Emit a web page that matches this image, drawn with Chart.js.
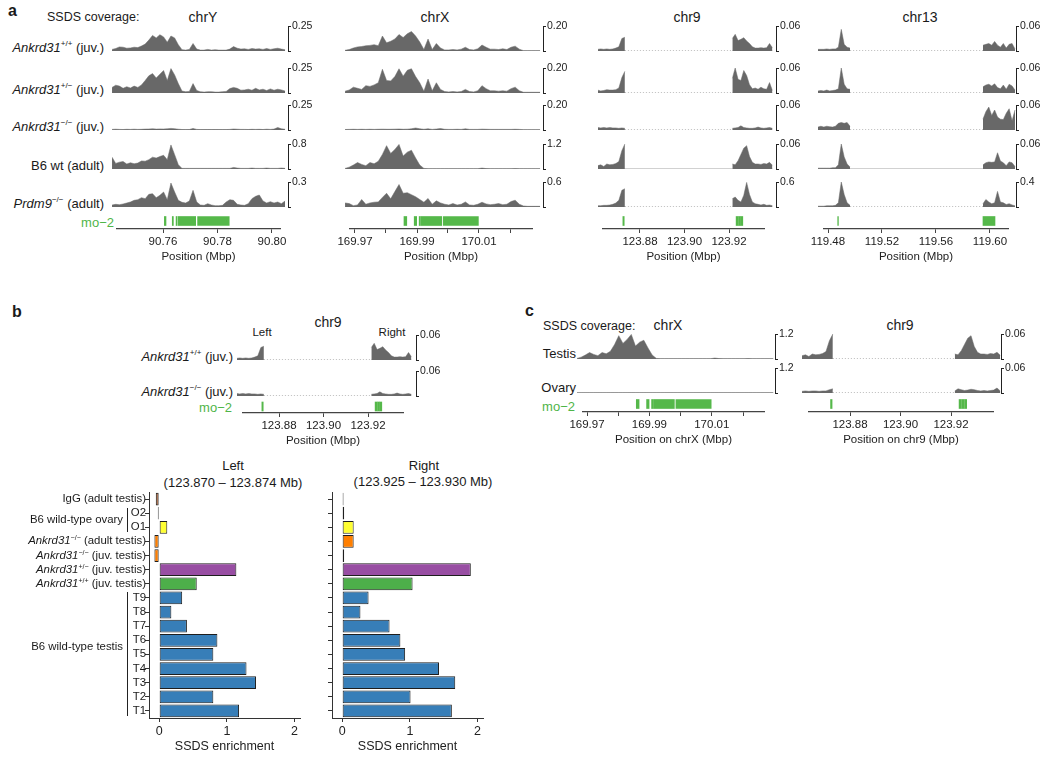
<!DOCTYPE html>
<html>
<head>
<meta charset="utf-8">
<title>SSDS coverage at mo-2 hotspots</title>
<script src="https://cdn.jsdelivr.net/npm/chart.js@4.4.1/dist/chart.umd.min.js"></script>
<style>
  html, body { margin: 0; padding: 0; background: #fff; }
  #fig { position: relative; width: 1050px; height: 758px; overflow: hidden;
         font-family: 'Liberation Sans', Arial, Helvetica, sans-serif; color: #1a1a1a; }
  #fig canvas { position: absolute; }
  .t { position: absolute; white-space: nowrap; line-height: 1; }
  .t sup { font-size: 62%; line-height: 0; vertical-align: super; }
  .vline { position: absolute; width: 0; border-left: 1px solid #222; }
</style>
</head>
<body>
<div id="fig"></div>
<script>
const FONT = "'Liberation Sans', Arial, Helvetica, sans-serif";
Chart.defaults.font.family = FONT;
Chart.defaults.color = "#222";

// ---------- data: SSDS coverage ----------
const rowLabels = ["Ankrd31+/+ (juv.)", "Ankrd31+/- (juv.)", "Ankrd31-/- (juv.)", "B6 wt (adult)", "Prdm9-/- (adult)"];

// chrY
const chrYRange = [90.7413, 90.8048];
const chrYWt = [0.016,0.025,0.041,0.038,0.028,0.031,0.038,0.034,0.05,0.069,0.109,0.156,0.131,0.163,0.141,0.088,0.15,0.131,0.063,0.013,0.009,0.016,0.075,0.019,0.009,0.009,0.016,0.009,0.013,0.009,0.009,0.009,0.019,0.044,0.028,0.019,0.022,0.016,0.025,0.019,0.022,0.016,0.025,0.016,0.022,0.028,0.019,0.013];
const chrYHet = [0.056,0.078,0.069,0.047,0.063,0.05,0.069,0.056,0.081,0.125,0.172,0.194,0.15,0.188,0.225,0.125,0.244,0.181,0.094,0.019,0.013,0.016,0.094,0.025,0.013,0.009,0.013,0.013,0.009,0.009,0.013,0.016,0.044,0.056,0.047,0.028,0.031,0.038,0.028,0.047,0.031,0.038,0.025,0.041,0.028,0.038,0.031,0.019];
const chrYKo = [0.006,0.008,0.006,0.005,0.007,0.006,0.008,0.006,0.007,0.009,0.01,0.012,0.009,0.011,0.01,0.012,0.016,0.013,0.008,0.005,0.004,0.005,0.016,0.006,0.004,0.004,0.005,0.004,0.005,0.004,0.004,0.004,0.006,0.01,0.008,0.006,0.006,0.005,0.007,0.006,0.007,0.005,0.008,0.006,0.009,0.025,0.012,0.007];
const chrYB6 = [0.38,0.18,0.22,0.24,0.16,0.2,0.17,0.19,0.26,0.25,0.3,0.38,0.35,0.4,0.44,0.3,0.77,0.46,0.14,0.02,0.02,0.02,0.02,0.02,0.02,0.02,0.02,0.02,0.02,0.02,0.02,0.02,0.02,0.05,0.03,0.02,0.02,0.02,0.03,0.02,0.02,0.02,0.03,0.02,0.02,0.02,0.03,0.02];
const chrYPrdm9 = [0.024,0.032,0.028,0.036,0.048,0.06,0.08,0.088,0.112,0.1,0.152,0.16,0.112,0.14,0.18,0.088,0.288,0.18,0.08,0.056,0.048,0.072,0.2,0.06,0.024,0.02,0.04,0.024,0.016,0.016,0.02,0.06,0.088,0.08,0.032,0.024,0.02,0.04,0.1,0.128,0.144,0.072,0.048,0.064,0.048,0.06,0.04,0.072];
const chrYMax = [0.25, 0.25, 0.25, 0.8, 0.3];
const chrYMaxText = ["0.25", "0.25", "0.25", "0.8", "0.3"];
const chrYTicks = [90.76, 90.78, 90.80];
const chrYTickText = ["90.76", "90.78", "90.80"];
const chrYHotspots = [[90.7605, 90.7611], [90.7634, 90.7638], [90.7648, 90.7652], [90.7656, 90.7720], [90.7727, 90.7843]];

// chrX
const chrXRange = [169.9668, 170.0297];
const chrXWt = [0.006,0.012,0.024,0.033,0.036,0.042,0.045,0.051,0.042,0.12,0.066,0.078,0.096,0.132,0.108,0.138,0.156,0.12,0.072,0.012,0.096,0.012,0.06,0.024,0.009,0.009,0.012,0.009,0.015,0.03,0.012,0.009,0.018,0.048,0.03,0.015,0.015,0.012,0.018,0.012,0.03,0.039,0.015,0.003,0.003,0.003,0.003,0.003];
const chrXHet = [0.015,0.024,0.047,0.038,0.029,0.059,0.053,0.065,0.082,0.19,0.1,0.097,0.132,0.194,0.135,0.182,0.194,0.132,0.082,0.015,0.112,0.018,0.082,0.029,0.012,0.009,0.012,0.009,0.012,0.029,0.012,0.009,0.018,0.059,0.035,0.018,0.018,0.015,0.018,0.015,0.035,0.047,0.018,0.006,0.006,0.006,0.006,0.006];
const chrXKo = [0.004,0.005,0.006,0.005,0.006,0.005,0.006,0.005,0.006,0.007,0.006,0.006,0.007,0.008,0.006,0.007,0.01,0.016,0.01,0.006,0.01,0.005,0.008,0.012,0.006,0.005,0.005,0.006,0.005,0.01,0.005,0.005,0.005,0.007,0.006,0.005,0.005,0.005,0.005,0.005,0.005,0.006,0.005,0.003,0.003,0.003,0.003,0.003];
const chrXB6 = [0.03,0.09,0.19,0.31,0.22,0.16,0.31,0.25,0.37,0.7,1.12,0.75,0.94,1.18,0.62,0.81,0.9,0.53,0.19,0.03,0.015,0.015,0.015,0.015,0.015,0.015,0.015,0.015,0.015,0.015,0.015,0.015,0.015,0.045,0.02,0.015,0.015,0.015,0.015,0.015,0.015,0.02,0.015,0.015,0.015,0.015,0.015,0.015];
const chrXPrdm9 = [0.098,0.082,0.033,0.049,0.18,0.066,0.098,0.115,0.123,0.23,0.33,0.197,0.37,0.54,0.33,0.344,0.295,0.246,0.18,0.115,0.205,0.066,0.148,0.098,0.066,0.049,0.082,0.049,0.066,0.123,0.049,0.041,0.066,0.115,0.074,0.057,0.066,0.082,0.057,0.066,0.131,0.164,0.066,0.025,0.016,0.016,0.016,0.016];
const chrXOvary = [0.01,0.01,0.012,0.01,0.01,0.012,0.01,0.01,0.012,0.014,0.012,0.01,0.012,0.014,0.012,0.012,0.014,0.012,0.01,0.01,0.01,0.01,0.012,0.01,0.01,0.01,0.01,0.01,0.01,0.012,0.01,0.01,0.01,0.012,0.01,0.01,0.01,0.01,0.01,0.01,0.01,0.012,0.01,0.01,0.01,0.01,0.01,0.01];
const chrXMax = [0.2, 0.2, 0.2, 1.2, 0.6];
const chrXMaxText = ["0.20", "0.20", "0.20", "1.2", "0.6"];
const chrXTicks = [169.97, 169.98, 169.99, 170.00, 170.01, 170.02];
const chrXTickText = ["169.97", "", "169.99", "", "170.01", ""];
const chrXHotspots = [[169.9858, 169.9867], [169.9891, 169.9899], [169.9907, 169.9911], [169.9913, 169.9980], [169.9985, 170.0098]];

// chr9 (two covered windows)
const chr9Left = [123.861, 123.8732];
const chr9Right = [123.9215, 123.9395];
const chr9WtL = [0.004,0.005,0.004,0.005,0.004,0.005,0.007,0.01,0.03,0.033];
const chr9WtR = [0.03,0.04,0.025,0.028,0.032,0.024,0.018,0.01,0.007,0.007,0.008,0.007,0.008,0.018,0.008];
const chr9HetL = [0.007,0.005,0.006,0.008,0.007,0.007,0.008,0.012,0.037,0.052];
const chr9HetR = [0.035,0.06,0.033,0.03,0.054,0.042,0.02,0.01,0.012,0.009,0.014,0.01,0.009,0.025,0.006];
const chr9KoL = [0.006,0.005,0.006,0.005,0.006,0.005,0.005,0.004,0.005,0.004];
const chr9KoR = [0.004,0.005,0.006,0.01,0.006,0.005,0.004,0.004,0.005,0.007,0.005,0.004,0.005,0.006,0.004];
const chr9B6L = [0.008,0.01,0.006,0.012,0.01,0.011,0.013,0.018,0.044,0.06];
const chr9B6R = [0.012,0.01,0.02,0.035,0.05,0.056,0.03,0.016,0.012,0.012,0.011,0.013,0.012,0.016,0.009];
const chr9Prdm9L = [0.032,0.032,0.04,0.04,0.048,0.064,0.096,0.16,0.4,0.44];
const chr9Prdm9R = [0.2,0.24,0.16,0.12,0.28,0.59,0.3,0.12,0.08,0.064,0.048,0.064,0.04,0.048,0.032];
const chr9OvaryL = [0.004,0.005,0.004,0.005,0.005,0.004,0.005,0.005,0.008,0.01];
const chr9OvaryR = [0.005,0.01,0.008,0.006,0.007,0.009,0.008,0.006,0.005,0.006,0.005,0.006,0.007,0.012,0.005];
const chr9Max = [0.06, 0.06, 0.06, 0.06, 0.6];
const chr9MaxText = ["0.06", "0.06", "0.06", "0.06", "0.6"];
const chr9Ticks = [123.88, 123.90, 123.92];
const chr9TickText = ["123.88", "123.90", "123.92"];
const chr9Hotspots = [[123.8723, 123.8729], [123.9232, 123.9241], [123.9243, 123.9252], [123.9254, 123.9262]];

// chr13
const chr13Left = [119.4726, 119.4963];
const chr13Right = [119.5948, 119.6185];
const chr13WtL = [0.004,0.004,0.004,0.005,0.004,0.005,0.005,0.009,0.052,0.016,0.009,0.007];
const chr13WtR = [0.014,0.016,0.018,0.014,0.023,0.014,0.009,0.018,0.007,0.016,0.018,0.005];
const chr13HetL = [0.005,0.006,0.005,0.007,0.005,0.006,0.007,0.01,0.06,0.021,0.01,0.009];
const chr13HetR = [0.015,0.019,0.021,0.017,0.022,0.013,0.01,0.019,0.009,0.021,0.017,0.007];
const chr13KoL = [0.007,0.009,0.007,0.009,0.008,0.007,0.009,0.016,0.018,0.016,0.018,0.009];
const chr13KoR = [0.026,0.044,0.055,0.035,0.048,0.031,0.026,0.025,0.04,0.051,0.022,0.048];
const chr13B6L = [0.002,0.002,0.002,0.002,0.002,0.003,0.003,0.01,0.06,0.029,0.012,0.005];
const chr13B6R = [0.01,0.015,0.017,0.016,0.017,0.039,0.019,0.015,0.008,0.017,0.015,0.006];
const chr13Prdm9L = [0.013,0.013,0.013,0.02,0.02,0.02,0.027,0.067,0.4,0.2,0.067,0.027];
const chr13Prdm9R = [0.053,0.12,0.08,0.053,0.067,0.25,0.08,0.067,0.04,0.053,0.033,0.02];
const chr13Max = [0.06, 0.06, 0.06, 0.06, 0.4];
const chr13MaxText = ["0.06", "0.06", "0.06", "0.06", "0.4"];
const chr13Ticks = [119.48, 119.52, 119.56, 119.60];
const chr13TickText = ["119.48", "119.52", "119.56", "119.60"];
const chr13Hotspots = [[119.4872, 119.4877], [119.5948, 119.6037]];

// panel b / c track scales
const bMax = [0.06, 0.06];
const bMaxText = ["0.06", "0.06"];
const cRowLabels = ["Testis", "Ovary"];
const cXMax = [1.2, 1.2];
const cXMaxText = ["1.2", "1.2"];
const c9Max = [0.06, 0.06];
const c9MaxText = ["0.06", "0.06"];

// SSDS enrichment bars, top to bottom
const barSamples = ["IgG (adult testis)", "O2", "O1", "Ankrd31-/- (adult testis)", "Ankrd31-/- (juv. testis)",
  "Ankrd31+/- (juv. testis)", "Ankrd31+/+ (juv. testis)", "T9", "T8", "T7", "T6", "T5", "T4", "T3", "T2", "T1"];
const leftEnrichment = [-0.05, -0.02, 0.12, -0.07, -0.07, 1.14, 0.555, 0.34, 0.18, 0.41, 0.86, 0.80, 1.29, 1.43, 0.80, 1.18];
const rightEnrichment = [0.02, 0.03, 0.17, 0.17, 0.03, 1.90, 1.04, 0.39, 0.27, 0.70, 0.86, 0.93, 1.43, 1.67, 1.01, 1.62];
const enrichTicks = [0, 1, 2];
const leftWindow = [123.870, 123.874];
const rightWindow = [123.925, 123.930];

// ---------- styles ----------
const GRAY = "#686868", BASELINE = "#a3a3a3", DOTS = "#8a8a8a", GREEN = "#55b84a", GREEN_TEXT = "#4fb548";
const barColors = ["#a65628", "#ffff33", "#ffff33", "#ff7f00", "#ff7f00", "#984ea3", "#4daf4a",
  "#377eb8", "#377eb8", "#377eb8", "#377eb8", "#377eb8", "#377eb8", "#377eb8", "#377eb8", "#377eb8"];

const fig = document.getElementById("fig");

const baseOpts = () => ({
  animation: false, responsive: false, maintainAspectRatio: false, events: [],
  plugins: { legend: { display: false }, tooltip: { enabled: false }, title: { display: false } }
});

const canvasAt = (x, y, w, h) => {
  const c = document.createElement("canvas");
  c.width = w; c.height = h;
  c.style.left = x + "px"; c.style.top = y + "px";
  c.style.width = w + "px"; c.style.height = h + "px";
  fig.appendChild(c);
  return c;
};

const label = (html, x, y, opt = {}) => {
  const d = document.createElement("div");
  d.className = "t";
  d.innerHTML = html;
  d.style.left = x + "px";
  d.style.top = y + "px";
  d.style.fontSize = (opt.size || 13) + "px";
  const a = opt.align || "left";
  d.style.transform = a === "right" ? "translate(-100%,-50%)" : a === "center" ? "translate(-50%,-50%)" : "translate(0,-50%)";
  if (opt.bold) d.style.fontWeight = "bold";
  if (opt.color) d.style.color = opt.color;
  fig.appendChild(d);
};

const vline = (x, y0, y1) => {
  const d = document.createElement("div");
  d.className = "vline";
  d.style.left = x + "px"; d.style.top = y0 + "px"; d.style.height = (y1 - y0) + "px";
  fig.appendChild(d);
};

const fmt = s => s.replace(/(Ankrd31|Prdm9)([+-])\/([+-])/, (m, g, a, b) =>
  `<i>${g}</i><sup>${a.replace("-", "\u2212")}/${b.replace("-", "\u2212")}</sup>`);

// pixel <-> Mbp for one track column
const mbp = (col, px) => col.ref + (px - col.refPx) / col.ppm;

// bins spread evenly over a covered window
const bins = (range, vals) => {
  const step = (range[1] - range[0]) / (vals.length - 1);
  return vals.map((v, i) => ({ x: range[0] + i * step, y: v }));
};

// one coverage track with its scale bracket on the right
const coverage = (col, baseY, regions, top, topText, solidGap) => {
  const H = 25, PT = 7, PB = 2, YW = 28, GAP = 3;
  const cv = canvasAt(col.trackL, baseY - H - PT, col.trackR - col.trackL + GAP + YW, H + PT + PB);
  const ds = [];
  regions.forEach(([range, vals]) => ds.push({
    data: bins(range, vals), fill: "origin", backgroundColor: GRAY, borderColor: GRAY, borderWidth: 0.5, pointRadius: 0
  }));
  regions.forEach(([range]) => ds.push({
    data: [{ x: range[0], y: 0 }, { x: range[1], y: 0 }], borderColor: BASELINE, borderWidth: 1.2, pointRadius: 0
  }));
  if (regions.length > 1) ds.push({
    data: [{ x: regions[0][0][1], y: 0 }, { x: regions[1][0][0], y: 0 }],
    borderColor: solidGap ? BASELINE : DOTS, borderWidth: solidGap ? 1.2 : 1, borderDash: solidGap ? [] : [1.2, 1.8], pointRadius: 0
  });
  const opts = baseOpts();
  opts.layout = { padding: { top: PT, bottom: PB, left: 0, right: 0 } };
  opts.scales = {
    x: { type: "linear", display: false, min: mbp(col, col.trackL), max: mbp(col, col.trackR + GAP) },
    y: {
      position: "right", min: 0, max: top,
      afterBuildTicks: s => { s.ticks = [{ value: 0 }, { value: top }]; },
      afterFit: s => { s.width = YW; s.paddingTop = 0; s.paddingBottom = 0; },
      grid: { drawOnChartArea: false, tickLength: 3, color: "#222", lineWidth: 1 },
      border: { display: true, color: "#222", width: 1 },
      ticks: { autoSkip: false, padding: 1, color: "#222", font: { size: 10.5 }, callback: v => (v === top ? topText : "") }
    }
  };
  new Chart(cv, { type: "line", data: { datasets: ds }, options: opts });
};

// mo-2 hotspot row plus the position axis under it
const mo2Axis = (col, areaTop, axisY, ticks, tickText, title, spots) => {
  const PX = 26, XH = 35;
  const cv = canvasAt(col.axisL - PX, areaTop, col.axisR - col.axisL + 2 * PX, axisY - areaTop + XH);
  const opts = baseOpts();
  opts.indexAxis = "y";
  opts.layout = { padding: { left: PX, right: PX, top: 0, bottom: 0 } };
  opts.scales = {
    x: {
      type: "linear", min: mbp(col, col.axisL), max: mbp(col, col.axisR),
      afterBuildTicks: s => { s.ticks = ticks.map(v => ({ value: v })); },
      afterFit: s => { s.height = XH; s.paddingLeft = 0; s.paddingRight = 0; },
      grid: { drawOnChartArea: false, tickLength: 4, color: "#444", lineWidth: 1 },
      border: { display: true, color: "#444", width: 1.3 },
      ticks: { autoSkip: false, maxRotation: 0, padding: 2, color: "#222", font: { size: 11.5 }, callback: (v, i) => tickText[i] },
      title: { display: true, text: title, color: "#222", font: { size: 11.5 }, padding: { top: 0, bottom: 0 } }
    },
    y: { type: "category", display: false }
  };
  new Chart(cv, {
    type: "bar",
    data: {
      labels: ["mo-2"],
      datasets: spots.map(h => ({ data: [h], backgroundColor: GREEN, borderWidth: 0, barThickness: 9, grouped: false }))
    },
    options: opts
  });
};

// horizontal enrichment bar chart, returns chart and canvas top
const enrichment = (areaLeft, areaTop, values) => {
  const W = 151, H = 226, YW = 5, PT = 2, PR = 12, XH = 37;
  const top = areaTop - PT;
  const cv = canvasAt(areaLeft - YW, top, YW + W + PR, PT + H + XH);
  const opts = baseOpts();
  opts.indexAxis = "y";
  opts.layout = { padding: { top: PT, right: PR, left: 0, bottom: 0 } };
  opts.scales = {
    x: {
      type: "linear", min: -0.15, max: 2.08,
      afterBuildTicks: s => { s.ticks = enrichTicks.map(v => ({ value: v })); },
      afterFit: s => { s.height = XH; s.paddingLeft = 0; s.paddingRight = 0; },
      grid: { drawOnChartArea: false, tickLength: 4, color: "#333" },
      border: { display: true, color: "#333", width: 1 },
      ticks: { color: "#222", padding: 2, font: { size: 12.5 } },
      title: { display: true, text: "SSDS enrichment", color: "#222", font: { size: 12.5 }, padding: { top: 0, bottom: 1 } }
    },
    y: {
      type: "category",
      afterFit: s => { s.width = YW; s.paddingTop = 0; s.paddingBottom = 0; },
      grid: { drawOnChartArea: false, offset: false, tickLength: 4, color: "#333" },
      border: { display: true, color: "#333", width: 1 },
      ticks: { display: false }
    }
  };
  const chart = new Chart(cv, {
    type: "bar",
    data: {
      labels: barSamples,
      datasets: [{ data: values, backgroundColor: barColors, borderColor: "#1e1e1e", borderWidth: 1,
        borderSkipped: false, barPercentage: 1, categoryPercentage: 0.9 }]
    },
    options: opts
  });
  return { chart, top };
};

// ---------- panel a ----------
const colY = { trackL: 112, trackR: 285, ref: 90.76, refPx: 163, ppm: 2725, axisL: 117, axisR: 280 };
const colX = { trackL: 345, trackR: 540, ref: 169.97, refPx: 355, ppm: 3100, axisL: 350, axisR: 532 };
const col9 = { trackL: 598, trackR: 773, ref: 123.88, refPx: 640, ppm: 2225, axisL: 603, axisR: 764 };
const col13 = { trackL: 818, trackR: 1013, ref: 119.48, refPx: 828, ppm: 1350, axisL: 824, axisR: 1008 };
const A_BASE = [51, 93, 130, 169, 207];

const panelA = [
  { col: colY, name: "chrY", cx: 203, max: chrYMax, maxText: chrYMaxText, ticks: chrYTicks, tickText: chrYTickText, spots: chrYHotspots,
    rows: [chrYWt, chrYHet, chrYKo, chrYB6, chrYPrdm9].map(v => [[chrYRange, v]]) },
  { col: colX, name: "chrX", cx: 435, max: chrXMax, maxText: chrXMaxText, ticks: chrXTicks, tickText: chrXTickText, spots: chrXHotspots,
    rows: [chrXWt, chrXHet, chrXKo, chrXB6, chrXPrdm9].map(v => [[chrXRange, v]]) },
  { col: col9, name: "chr9", cx: 687, max: chr9Max, maxText: chr9MaxText, ticks: chr9Ticks, tickText: chr9TickText, spots: chr9Hotspots,
    rows: [[chr9WtL, chr9WtR], [chr9HetL, chr9HetR], [chr9KoL, chr9KoR], [chr9B6L, chr9B6R], [chr9Prdm9L, chr9Prdm9R]]
      .map(([l, r]) => [[chr9Left, l], [chr9Right, r]]) },
  { col: col13, name: "chr13", cx: 920, max: chr13Max, maxText: chr13MaxText, ticks: chr13Ticks, tickText: chr13TickText, spots: chr13Hotspots,
    rows: [[chr13WtL, chr13WtR], [chr13HetL, chr13HetR], [chr13KoL, chr13KoR], [chr13B6L, chr13B6R], [chr13Prdm9L, chr13Prdm9R]]
      .map(([l, r]) => [[chr13Left, l], [chr13Right, r]]) }
];

label("a", 8, 11, { bold: true, size: 16 });
label("SSDS coverage:", 47, 17, { size: 12.5 });
rowLabels.forEach((t, r) => label(fmt(t), 104, A_BASE[r] - 4, { align: "right" }));
label("mo\u22122", 114, 222, { align: "right", color: GREEN_TEXT });

panelA.forEach(p => {
  label(p.name, p.cx, 17, { align: "center", size: 14 });
  p.rows.forEach((regions, r) => coverage(p.col, A_BASE[r], regions, p.max[r], p.maxText[r], r === 3));
  mo2Axis(p.col, 213, 229, p.ticks, p.tickText, "Position (Mbp)", p.spots);
});

// ---------- panel b ----------
const colB9 = { trackL: 237, trackR: 413, ref: 123.88, refPx: 279, ppm: 2225, axisL: 243, axisR: 403 };
const B_BASE = [360, 396];
label("b", 12, 312, { bold: true, size: 16 });
label("chr9", 328, 322, { align: "center", size: 14 });
label("Left", 262, 333, { align: "center", size: 11.5 });
label("Right", 392, 333, { align: "center", size: 11.5 });
label(fmt(rowLabels[0]), 233, 356, { align: "right" });
label(fmt(rowLabels[2]), 233, 391, { align: "right" });
label("mo\u22122", 232, 407, { align: "right", color: GREEN_TEXT });
coverage(colB9, B_BASE[0], [[chr9Left, chr9WtL], [chr9Right, chr9WtR]], bMax[0], bMaxText[0], false);
coverage(colB9, B_BASE[1], [[chr9Left, chr9KoL], [chr9Right, chr9KoR]], bMax[1], bMaxText[1], false);
mo2Axis(colB9, 400, 413, chr9Ticks, chr9TickText, "Position (Mbp)", chr9Hotspots);

const win = w => `(${w[0].toFixed(3)} \u2013 ${w[1].toFixed(3)} Mb)`;
label("Left", 233, 465, { align: "center", size: 13 });
label(win(leftWindow), 233, 482, { align: "center", size: 13 });
label("Right", 424, 465, { align: "center", size: 13 });
label(win(rightWindow), 423, 481, { align: "center", size: 13 });

const L = enrichment(149, 492, leftEnrichment);
enrichment(332, 492, rightEnrichment);

const yAt = i => L.top + L.chart.scales.y.getPixelForValue(i);
barSamples.forEach((s, i) => label(fmt(s), 146, yAt(i), { align: "right", size: 11.4 }));
const iO2 = barSamples.indexOf("O2"), iO1 = barSamples.indexOf("O1");
const iT9 = barSamples.indexOf("T9"), iT1 = barSamples.indexOf("T1");
vline(127, yAt(iO2) - 5, yAt(iO1) + 5);
label("B6 wild-type ovary", 123, (yAt(iO2) + yAt(iO1)) / 2, { align: "right", size: 11.4 });
vline(127, yAt(iT9) - 6, yAt(iT1) + 5);
label("B6 wild-type testis", 123, (yAt(barSamples.indexOf("T6")) + yAt(barSamples.indexOf("T5"))) / 2, { align: "right", size: 11.4 });

// ---------- panel c ----------
const colCX = { trackL: 577, trackR: 772, ref: 169.97, refPx: 587, ppm: 3120, axisL: 583, axisR: 764 };
const colC9 = { trackL: 800, trackR: 998, ref: 123.88, refPx: 850, ppm: 2525, axisL: 809, axisR: 993 };
const C_BASE = [359, 393];
label("c", 525, 311, { bold: true, size: 16 });
label("SSDS coverage:", 543, 326, { size: 12.5 });
label("chrX", 668, 325, { align: "center", size: 14 });
label("chr9", 900, 325, { align: "center", size: 14 });
cRowLabels.forEach((t, r) => label(t, 576, C_BASE[r] - 6, { align: "right" }));
label("mo\u22122", 575, 406, { align: "right", color: GREEN_TEXT });
coverage(colCX, C_BASE[0], [[chrXRange, chrXB6]], cXMax[0], cXMaxText[0]);
coverage(colCX, C_BASE[1], [[chrXRange, chrXOvary]], cXMax[1], cXMaxText[1]);
coverage(colC9, C_BASE[0], [[chr9Left, chr9B6L], [chr9Right, chr9B6R]], c9Max[0], c9MaxText[0], false);
coverage(colC9, C_BASE[1], [[chr9Left, chr9OvaryL], [chr9Right, chr9OvaryR]], c9Max[1], c9MaxText[1], false);
mo2Axis(colCX, 396, 412, chrXTicks, chrXTickText, "Position on chrX (Mbp)", chrXHotspots);
mo2Axis(colC9, 396, 412, chr9Ticks, chr9TickText, "Position on chr9 (Mbp)", chr9Hotspots);
</script>
</body>
</html>
